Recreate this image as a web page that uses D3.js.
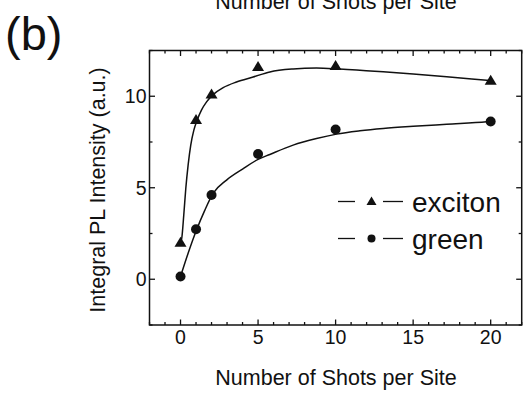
<!DOCTYPE html>
<html>
<head>
<meta charset="utf-8">
<script src="https://cdn.jsdelivr.net/npm/d3@7/dist/d3.min.js"></script>
<style>
  html, body { margin: 0; padding: 0; background: #fff; }
  svg { display: block; }
  text { font-family: "Liberation Sans", Arial, Helvetica, sans-serif; fill: #111; }
</style>
</head>
<body>
<svg id="chart" width="523" height="402"></svg>
<script>
// ---- data ----
const shots = [0, 1, 2, 5, 10, 20];
const exciton = [2.0, 8.7, 10.1, 11.6, 11.65, 10.85];
const green = [0.15, 2.73, 4.6, 6.84, 8.18, 8.62];

// fitted curves
const fitExcitonX = [0, 0.08, 0.21, 0.34, 0.49, 0.66, 0.86, 1.07, 1.35, 1.68, 2.1, 2.75, 3.61, 4.68, 5.76, 7.26, 8.77, 10.06, 11.57, 13.07, 15.0, 17.16, 19.74, 20];
const fitExcitonY = [2.0, 2.24, 3.51, 4.96, 6.24, 7.33, 8.15, 8.69, 9.24, 9.69, 10.09, 10.47, 10.78, 11.05, 11.33, 11.49, 11.54, 11.5, 11.42, 11.34, 11.22, 11.07, 10.87, 10.85];
const fitGreenX = [0, 0.49, 1.03, 1.57, 2.1, 2.97, 4.0, 5.0, 5.76, 7.26, 8.77, 10.06, 11.57, 13.07, 15.0, 17.16, 19.74, 20];
const fitGreenY = [0.15, 1.42, 2.69, 3.78, 4.69, 5.42, 6.02, 6.55, 6.82, 7.33, 7.69, 7.93, 8.11, 8.24, 8.36, 8.47, 8.6, 8.62];

const xMajor = [0, 5, 10, 15, 20];
const yMajor = [0, 5, 10];
const xTitle = "Number of Shots per Site";
const yTitle = "Integral PL Intensity (a.u.)";
const panelLabel = "(b)";
const legendNames = ["exciton", "green"];

// ---- layout ----
const svg = d3.select("#chart");
const L = 149.5, R = 521.7, T = 50.5, B = 325;
const x = d3.scaleLinear().domain([-2, 22]).range([L, R]);
const y = d3.scaleLinear().domain([-2.5, 12.5]).range([B, T]);
const ink = "#111";

const xMinor = d3.range(-2, 23, 1).filter(v => !xMajor.includes(v));
const yMinor = d3.range(-2.5, 12.6, 2.5).filter(v => !yMajor.includes(v));

// axes with inward ticks
const gAx = svg.append("g").attr("stroke", ink).attr("stroke-width", 1.3);
function ticks(sel, vals, len, orient) {
  vals.forEach(v => {
    if (orient === "bottom") sel.append("line").attr("x1", x(v)).attr("x2", x(v)).attr("y1", B).attr("y2", B - len);
    if (orient === "top") sel.append("line").attr("x1", x(v)).attr("x2", x(v)).attr("y1", T).attr("y2", T + len);
    if (orient === "left") sel.append("line").attr("y1", y(v)).attr("y2", y(v)).attr("x1", L).attr("x2", L + len);
    if (orient === "right") sel.append("line").attr("y1", y(v)).attr("y2", y(v)).attr("x1", R).attr("x2", R - len);
  });
}
ticks(gAx, xMajor, 5.5, "bottom"); ticks(gAx, xMinor, 3, "bottom");
ticks(gAx, xMajor, 5.5, "top"); ticks(gAx, xMinor, 3, "top");
ticks(gAx, yMajor, 5.5, "left"); ticks(gAx, yMinor, 3, "left");
ticks(gAx, yMajor, 5.5, "right"); ticks(gAx, yMinor, 3, "right");
svg.append("rect").attr("x", L).attr("y", T).attr("width", R - L).attr("height", B - T)
  .attr("fill", "none").attr("stroke", ink).attr("stroke-width", 1.5);

// tick labels
svg.append("g").selectAll("text").data(xMajor).join("text")
  .attr("x", d => x(d)).attr("y", 343.5).attr("text-anchor", "middle")
  .attr("font-size", 19.5).text(d => d);
svg.append("g").selectAll("text").data(yMajor).join("text")
  .attr("x", 146.5).attr("y", d => y(d) + 7).attr("text-anchor", "end")
  .attr("font-size", 19.5).text(d => d);

// titles
svg.append("text").attr("x", 336).attr("y", 384.5).attr("text-anchor", "middle")
  .attr("font-size", 21.5).text(xTitle);
svg.append("text").attr("x", 336).attr("y", 9).attr("text-anchor", "middle")
  .attr("font-size", 21.5).text(xTitle);
svg.append("text").attr("transform", "translate(105,190) rotate(-90)")
  .attr("text-anchor", "middle").attr("font-size", 21.5).text(yTitle);
svg.append("text").attr("x", 5).attr("y", 50).attr("font-size", 47).text(panelLabel);

// fit curves
const line = d3.line().x(d => x(d[0])).y(d => y(d[1])).curve(d3.curveMonotoneX);
const fitEx = fitExcitonX.map((v, i) => [v, fitExcitonY[i]]);
const fitGr = fitGreenX.map((v, i) => [v, fitGreenY[i]]);
svg.append("path").attr("d", line(fitEx)).attr("fill", "none").attr("stroke", ink).attr("stroke-width", 1.5);
svg.append("path").attr("d", line(fitGr)).attr("fill", "none").attr("stroke", ink).attr("stroke-width", 1.5);

// markers
const tri = (cx, cy, w, h) => `M${cx},${cy - h * 0.6}L${cx + w / 2},${cy + h * 0.4}L${cx - w / 2},${cy + h * 0.4}Z`;
svg.append("g").selectAll("path").data(shots).join("path")
  .attr("d", (d, i) => tri(x(d), y(exciton[i]), 12, 10)).attr("fill", ink);
svg.append("g").selectAll("circle").data(shots).join("circle")
  .attr("cx", d => x(d)).attr("cy", (d, i) => y(green[i])).attr("r", 5).attr("fill", ink);

// legend
const lg = svg.append("g");
const rows = [201.5, 238.5];
rows.forEach((ry, i) => {
  lg.append("line").attr("x1", 338).attr("x2", 355).attr("y1", ry).attr("y2", ry).attr("stroke", ink).attr("stroke-width", 1.3);
  lg.append("line").attr("x1", 383).attr("x2", 403).attr("y1", ry).attr("y2", ry).attr("stroke", ink).attr("stroke-width", 1.3);
  if (i === 0) lg.append("path").attr("d", tri(371.5, ry, 10, 8.5)).attr("fill", ink);
  else lg.append("circle").attr("cx", 371.5).attr("cy", ry).attr("r", 4).attr("fill", ink);
  lg.append("text").attr("x", 412).attr("y", ry + 10).attr("font-size", 28).text(legendNames[i]);
});
</script>
</body>
</html>
